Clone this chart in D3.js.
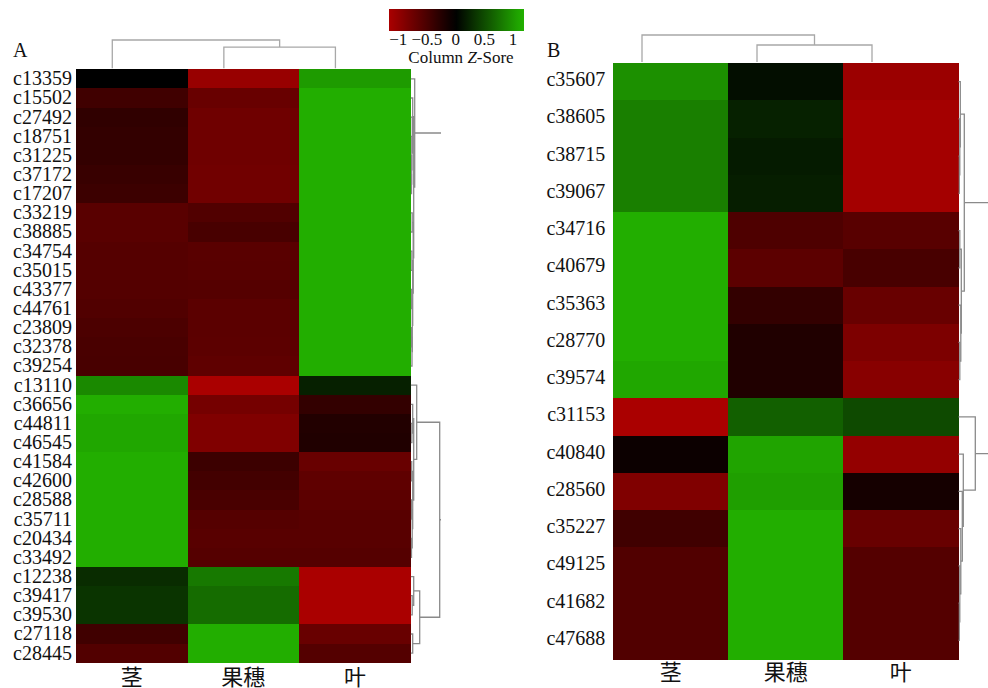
<!DOCTYPE html>
<html>
<head>
<meta charset="utf-8">
<script src="https://cdn.jsdelivr.net/npm/d3@7"></script>
<style>
  body { margin: 0; background: #fff; }
  text { font-family: "Liberation Serif", "Times New Roman", serif; fill: #111; }
  .cjk { font-family: "Noto Sans CJK SC", sans-serif; }
</style>
</head>
<body>
<script>
const cols = ['茎', '果穗', '叶'];

const rowsA = ['c13359','c15502','c27492','c18751','c31225','c37172','c17207','c33219','c38885','c34754',
  'c35015','c43377','c44761','c23809','c32378','c39254','c13110','c36656','c44811','c46545',
  'c41584','c42600','c28588','c35711','c20434','c33492','c12238','c39417','c39530','c27118','c28445'];
const stemA = [0.0,-0.44,-0.33,-0.35,-0.35,-0.38,-0.41,-0.61,-0.61,-0.58,-0.58,-0.57,-0.55,-0.52,-0.5,-0.49,
  0.9,1.15,1.1,1.1,1.15,1.15,1.15,1.15,1.15,1.15,0.29,0.34,0.34,-0.44,-0.56];
const earA = [-1.04,-0.71,-0.76,-0.76,-0.76,-0.77,-0.77,-0.55,-0.49,-0.61,-0.6,-0.58,-0.62,-0.62,-0.63,-0.65,
  -1.16,-0.8,-0.87,-0.87,-0.41,-0.46,-0.5,-0.58,-0.6,-0.58,0.8,0.71,0.71,1.15,1.15];
const leafA = [1.02,1.15,1.15,1.15,1.15,1.15,1.15,1.15,1.15,1.15,1.15,1.15,1.15,1.15,1.15,1.15,
  0.21,-0.35,-0.23,-0.22,-0.71,-0.65,-0.63,-0.6,-0.6,-0.58,-1.16,-1.16,-1.16,-0.71,-0.57];

const rowsB = ['c35607','c38605','c38715','c39067','c34716','c40679','c35363','c28770','c39574',
  'c31153','c40840','c28560','c35227','c49125','c41682','c47688'];
const stemB = [0.95,0.84,0.84,0.84,1.15,1.15,1.15,1.15,1.1,-1.16,-0.08,-0.87,-0.44,-0.55,-0.55,-0.55];
const earB = [0.09,0.22,0.18,0.2,-0.53,-0.63,-0.35,-0.22,-0.22,0.63,1.08,1.05,1.15,1.15,1.15,1.15];
const leafB = [-1.06,-1.12,-1.12,-1.12,-0.6,-0.49,-0.71,-0.85,-0.93,0.49,-1.01,-0.14,-0.71,-0.57,-0.57,-0.57];

// dendrograms: [height, left, right], leaves are row / column indexes
const rowTreeA = [40,
  [4, 0, [3, [2, 1, [1.6, 2, [1.2, 3, [1, 4, [0.8, 5, 6]]]]],
    [2.5, [1.5, 7, 8], [2, [1.2, 9, 10], [1.6, [1, 11, 12], [1.3, [0.8, 13, 14], 15]]]]]],
  [29, [6, 16, [3, [2, 17, [1.2, 18, 19]], [2, [1, 20, 21], [1.5, [0.8, 22, 23], [0.8, 24, 25]]]]],
    [9, [3, 26, [1.5, 27, 28]], [2, 29, 30]]]];
const rowTreeB = [40,
  [6, [2, 0, [1.5, 1, [1, 2, 3]]], [3, [1.5, 4, 5], [2.5, 6, [1.5, 7, 8]]]],
  [17, 9, [5, 10, [4, 11, [2.5, 12, [1.5, 13, [1, 14, 15]]]]]]];
const colTreeA = [28, 0, [21, 1, 2]];
const colTreeB = [27, 0, [17, 1, 2]];

const legendTicks = [-1, -0.5, 0, 0.5, 1];

const svg = d3.select('body')
  .append('svg')
  .attr('width', 988)
  .attr('height', 688);

const color = d3.scaleLinear()
  .domain([-1.16, 0, 1.16])
  .range(['#aa0000', '#000000', '#22b000'])
  .clamp(true);

const defs = svg.append('defs');

function layout(node, pos) {
  if (typeof node === 'number') return { p: pos(node), h: 0, segs: [] };
  const [h, a, b] = node;
  const L = layout(a, pos), R = layout(b, pos);
  const seg = [[L.p, L.h], [L.p, h], [R.p, h], [R.p, R.h]];
  return { p: (L.p + R.p) / 2, h, segs: [...L.segs, ...R.segs, seg] };
}

function panel(c) {
  const g = svg.append('g');
  const values = [c.stem, c.ear, c.leaf];
  const cells = [];
  c.rows.forEach((r, i) => cols.forEach((col, j) => cells.push({ row: i, col, v: values[j][i] })));

  const x = d3.scaleBand().domain(cols).range([c.left, c.right]);
  const y = d3.scaleBand().domain(d3.range(c.rows.length)).range([c.top, c.bottom]);

  g.selectAll('rect.cell')
    .data(cells)
    .join('rect')
    .attr('class', 'cell')
    .attr('x', d => x(d.col))
    .attr('y', d => y(d.row))
    .attr('width', x.bandwidth() + 0.5)
    .attr('height', y.bandwidth() + 0.5)
    .attr('fill', d => color(d.v))
    .attr('shape-rendering', 'crispEdges');

  g.selectAll('text.row')
    .data(c.rows)
    .join('text')
    .attr('class', 'row')
    .attr('x', c.left - c.gap)
    .attr('y', (d, i) => y(i) + y.bandwidth() / 2)
    .attr('dy', c.dy)
    .attr('text-anchor', 'end')
    .style('font-size', '20px')
    .text(d => d);

  g.selectAll('text.col')
    .data(cols)
    .join('text')
    .attr('class', 'col cjk')
    .attr('x', d => x(d) + x.bandwidth() / 2)
    .attr('y', c.colLabelY)
    .attr('text-anchor', 'middle')
    .style('font-size', '22px')
    .text(d => d);

  g.append('text')
    .attr('x', c.letterX)
    .attr('y', 57)
    .style('font-size', '20px')
    .text(c.letter);

  // row dendrogram
  defs.append('clipPath')
    .attr('id', 'clip' + c.letter)
    .append('rect')
    .attr('x', c.right)
    .attr('y', 0)
    .attr('width', c.clipRight - c.right)
    .attr('height', 688);

  const hx = d3.scaleLinear().domain([0, 30]).range([c.right, c.right + 30]);
  const rowLine = d3.line().x(d => hx(d[1])).y(d => d[0]);
  const rt = layout(c.rowTree, i => y(i) + y.bandwidth() / 2);
  g.append('g')
    .attr('clip-path', `url(#clip${c.letter})`)
    .selectAll('path')
    .data(rt.segs)
    .join('path')
    .attr('d', rowLine)
    .attr('fill', 'none')
    .attr('stroke', '#8a8a8a')
    .attr('stroke-width', 1.3);

  // column dendrogram
  const hy = d3.scaleLinear().domain([0, c.colTree[0]]).range([c.top - 1, c.colTop]);
  const colLine = d3.line().x(d => d[0]).y(d => hy(d[1]));
  const ct = layout(c.colTree, j => x(cols[j]) + x.bandwidth() / 2 + c.colShift);
  g.append('g')
    .selectAll('path')
    .data(ct.segs)
    .join('path')
    .attr('d', colLine)
    .attr('fill', 'none')
    .attr('stroke', '#a8a8a8')
    .attr('stroke-width', 1.3);
}

panel({
  letter: 'A', letterX: 13, rows: rowsA, stem: stemA, ear: earA, leaf: leafA,
  left: 76, right: 410.7, top: 69.3, bottom: 662.7, gap: 4, dy: '0.32em',
  rowTree: rowTreeA, colTree: colTreeA, colShift: -19.5, colTop: 40,
  clipRight: 441, colLabelY: 685
});

panel({
  letter: 'B', letterX: 547, rows: rowsB, stem: stemB, ear: earB, leaf: leafB,
  left: 613.3, right: 958.3, top: 63, bottom: 659, gap: 8, dy: '0.22em',
  rowTree: rowTreeB, colTree: colTreeB, colShift: -28.8, colTop: 35,
  clipRight: 988, colLabelY: 680
});

// legend
const lx = d3.scaleLinear().domain([-1.16, 1.19]).range([389, 524]);
const grad = defs.append('linearGradient').attr('id', 'legendGrad');
grad.selectAll('stop')
  .data(d3.range(0, 1.001, 0.05))
  .join('stop')
  .attr('offset', d => d)
  .attr('stop-color', d => color(lx.invert(389 + d * 135)));

svg.append('rect')
  .attr('x', lx.range()[0])
  .attr('y', 9)
  .attr('width', lx.range()[1] - lx.range()[0])
  .attr('height', 22)
  .attr('fill', 'url(#legendGrad)');

svg.selectAll('text.tick')
  .data(legendTicks)
  .join('text')
  .attr('class', 'tick')
  .attr('x', d => lx(d))
  .attr('y', 45)
  .attr('text-anchor', 'middle')
  .style('font-size', '17px')
  .text(d => d3.format('')(d));

const title = svg.append('text')
  .attr('x', 461)
  .attr('y', 63)
  .attr('text-anchor', 'middle')
  .style('font-size', '17px');
title.append('tspan').text('Column ');
title.append('tspan').style('font-style', 'italic').text('Z');
title.append('tspan').text('-Sore');
</script>
</body>
</html>
